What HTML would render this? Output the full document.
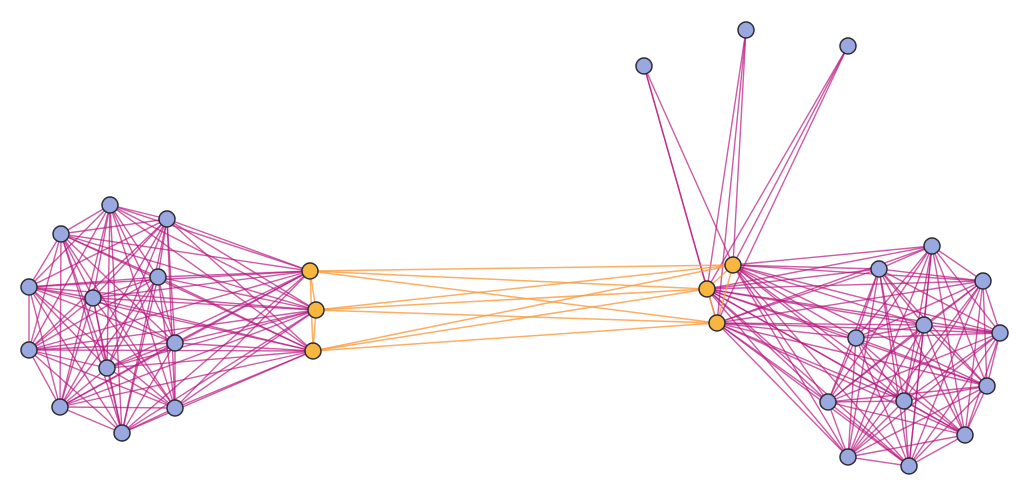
<!DOCTYPE html>
<html><head><meta charset="utf-8"><style>html,body{margin:0;padding:0;background:#fff;}svg{display:block}</style></head>
<body>
<svg id="g" width="1030" height="496" viewBox="0 0 1030 496" xmlns="http://www.w3.org/2000/svg"></svg>
<script>
const L=[[110,205],[167,219],[61,234],[29,287],[93,298],[158,277],[29,350],[175,343],[107,368],[60,407],[175,408],[122,433]];
const LO=[[310,271],[316,310],[313,351]];
const RO=[[733,265],[707,289],[717,323]];
const T=[[644,66],[746,30],[848,46]];
const R=[[932,246],[879,269],[983,281],[924,325],[856,338],[1000,333],[987,386],[828,402],[904,401],[965,435],[848,457],[909,466]];
const svg=document.getElementById('g');
let s='';
function ln(a,b,c,w,o){s+=`<line x1="${a[0]}" y1="${a[1]}" x2="${b[0]}" y2="${b[1]}" stroke="${c}" stroke-width="${w}" stroke-opacity="${o}"/>`;}
const M='#b8157f';
function clique(A){for(let i=0;i<A.length;i++)for(let j=i+1;j<A.length;j++)ln(A[i],A[j],M,1.4,0.7);}
clique(L);clique(R);
L.forEach(a=>LO.forEach(b=>ln(a,b,M,1.4,0.7)));
R.forEach(a=>RO.forEach(b=>ln(a,b,M,1.4,0.7)));
T.forEach(a=>RO.forEach(b=>ln(a,b,M,1.4,0.7)));
const O='#fb9a3c';
LO.forEach(a=>RO.forEach(b=>ln(a,b,O,1.5,0.8)));
for(let i=0;i<3;i++)for(let j=i+1;j<3;j++){ln(LO[i],LO[j],O,1.5,0.8);ln(RO[i],RO[j],O,1.5,0.8);}
function nd(p,f){s+=`<circle cx="${p[0]}" cy="${p[1]}" r="8" fill="${f}" stroke="#2b2b33" stroke-width="1.5"/>`;}
[...L,...R,...T].forEach(p=>nd(p,'#9aa8e0'));
[...LO,...RO].forEach(p=>nd(p,'#f7b63f'));
svg.innerHTML=s;
</script>
</body></html>
